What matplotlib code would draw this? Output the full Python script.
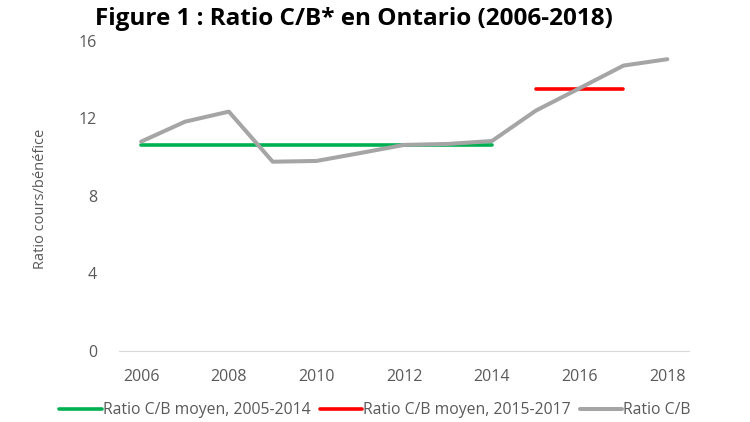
import numpy as np
import matplotlib
matplotlib.use("Agg")
import matplotlib.pyplot as plt

plt.rcParams['font.family'] = ['Open Sans', 'DejaVu Sans']

years = [2006, 2007, 2008, 2009, 2010, 2011, 2012, 2013, 2014, 2015, 2016, 2017, 2018]
ratio_cb = [10.8, 11.83, 12.35, 9.76, 9.8, 10.21, 10.63, 10.68, 10.83, 12.4, 13.56, 14.73, 15.06]
moyen_2005_2014 = 10.63
moyen_2015_2017 = 13.5
years_moyen1 = [2006, 2014]
years_moyen2 = [2015, 2017]

title = "Figure 1 : Ratio C/B* en Ontario (2006-2018)"
ylabel = "Ratio cours/bénéfice"
labels = ["Ratio C/B moyen, 2005-2014", "Ratio C/B moyen, 2015-2017", "Ratio C/B"]

def main():
	fig = plt.figure(figsize=(7.5, 4.22), dpi=100)
	ax = fig.add_axes([0.159, 0.1694, 0.76, 0.7334])

	ax.plot(years_moyen1, [moyen_2005_2014]*2, color="#00B050", lw=2.6, solid_capstyle="round", label=labels[0])
	ax.plot(years_moyen2, [moyen_2015_2017]*2, color="#FF0000", lw=2.6, solid_capstyle="round", label=labels[1])
	ax.plot(years, ratio_cb, color="#A5A5A5", lw=2.9, solid_capstyle="round", label=labels[2])

	ax.set_xlim(2005.5, 2018.5)
	ax.set_ylim(0, 16)
	ax.set_xticks(range(2006, 2019, 2))
	ax.set_yticks([0, 4, 8, 12, 16])
	for s in ["top", "right", "left"]:
		ax.spines[s].set_visible(False)
	ax.spines["bottom"].set_color("#D9D9D9")
	ax.tick_params(axis="both", length=0, labelsize=11.5, colors="#595959")
	ax.tick_params(axis="x", pad=13)
	ax.tick_params(axis="y", pad=16)
	ax.set_ylabel(ylabel, fontsize=10.5, color="#595959")
	ax.yaxis.set_label_coords(-0.125, 0.49)

	fig.text(0.472, 0.955, title, ha="center", va="center", fontsize=17.5, fontweight="bold", color="black")

	fig.legend(loc="center", bbox_to_anchor=(0.5, 0.028), ncol=3, frameon=False, fontsize=11.3,
		handlelength=2.7, handletextpad=0.05, columnspacing=0.6, labelcolor="#595959")

	fig.savefig("out.png", dpi=100)

if __name__ == '__main__':
	main()
